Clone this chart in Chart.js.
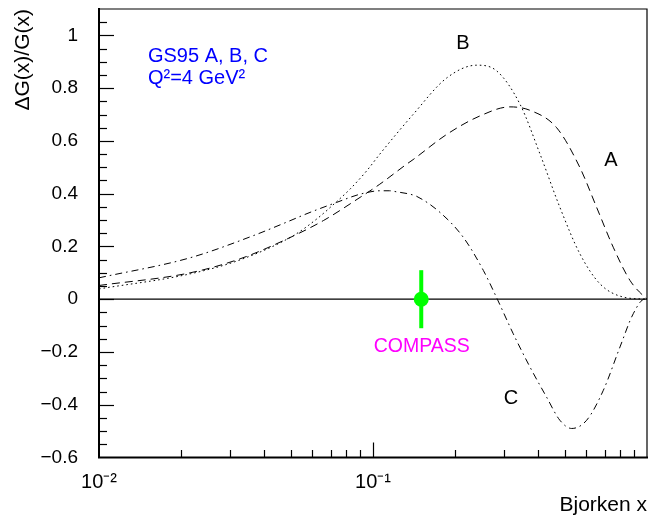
<!DOCTYPE html>
<html><head><meta charset="utf-8">
<script src="https://cdn.jsdelivr.net/npm/chart.js@4.4.1/dist/chart.umd.min.js"></script>
<style>html,body{margin:0;padding:0;background:#fff}#wrap{width:656px;height:519px}</style>
</head><body><div id="wrap"><canvas id="c" width="656" height="519"></canvas></div>
<script>
// ---- data (Bjorken x, ΔG/G) ----
const xA = [0.01, 0.0215, 0.0327, 0.0471, 0.0659, 0.0897, 0.1059, 0.1327, 0.140, 0.186, 0.246, 0.316, 0.374, 0.468, 0.569, 0.655, 0.753, 0.867, 0.98, 1.0];
const yA = [0.052, 0.100, 0.153, 0.222, 0.298, 0.386, 0.436, 0.512, 0.529, 0.625, 0.695, 0.729, 0.716, 0.650, 0.499, 0.348, 0.197, 0.071, 0.008, 0.0];

const xB = [0.01, 0.0215, 0.0327, 0.0512, 0.0623, 0.0737, 0.0824, 0.0949, 0.1059, 0.140, 0.186, 0.239, 0.283, 0.344, 0.407, 0.481, 0.569, 0.674, 0.820, 1.0];
const yB = [0.039, 0.096, 0.149, 0.241, 0.304, 0.370, 0.417, 0.487, 0.550, 0.700, 0.839, 0.887, 0.865, 0.739, 0.550, 0.348, 0.172, 0.058, 0.008, 0.0];

const xC = [0.01, 0.0215, 0.0366, 0.0471, 0.0589, 0.0737, 0.0897, 0.1059, 0.115, 0.122, 0.1365, 0.1443, 0.1756, 0.2138, 0.2528, 0.2843, 0.325, 0.374, 0.430, 0.481, 0.531, 0.602, 0.693, 0.797, 0.891, 0.98, 1.0];
const yC = [0.081, 0.157, 0.241, 0.287, 0.329, 0.367, 0.398, 0.411, 0.411, 0.407, 0.398, 0.390, 0.329, 0.234, 0.109, 0.0, -0.131, -0.257, -0.371, -0.459, -0.490, -0.459, -0.345, -0.181, -0.055, 0.0, 0.0];

const compassX = [0.15];
const compassY = [0.0];
const compassErr = [0.11];

const zeroX = [0.01, 1.0];
const zeroY = [0, 0];

// ---- axis ticks ----
const xTickValues = [0.01,0.02,0.03,0.04,0.05,0.06,0.07,0.08,0.09,0.1,0.2,0.3,0.4,0.5,0.6,0.7,0.8,0.9,1.0];
const xTickText = {'0.01':'10\u207B\u00B2', '0.1':'10\u207B\u00B9'};
const yMin = -0.6, yMax = 1.1, yStep = 0.05, yLabelStep = 0.2;

const FONT = 'Liberation Sans, Arial, Helvetica, sans-serif';

const pts = (xs, ys) => xs.map((x, i) => ({x: x, y: ys[i]}));
const isPow10 = v => Math.abs(Math.log10(v) - Math.round(Math.log10(v))) < 1e-6;
const isYMajor = v => Math.abs(v / yLabelStep - Math.round(v / yLabelStep)) < 1e-6;

const frameTicks = {
  id: 'frameTicks',
  afterDraw(chart) {
    const {ctx, chartArea: a, scales: {x, y}} = chart;
    ctx.save();
    ctx.strokeStyle = '#000';
    ctx.lineCap = 'butt';
    ctx.lineWidth = 1.2;
    ctx.beginPath();
    ctx.moveTo(a.left, a.top); ctx.lineTo(a.right, a.top); ctx.lineTo(a.right, a.bottom);
    ctx.stroke();
    ctx.lineWidth = 2;
    ctx.beginPath();
    ctx.moveTo(a.left, a.top - 1); ctx.lineTo(a.left, a.bottom); ctx.lineTo(a.right + 1, a.bottom);
    ctx.stroke();
    ctx.lineWidth = 1.2;
    x.ticks.forEach(t => {
      const px = Math.round(x.getPixelForValue(t.value)) + 0.5;
      if (px <= a.left + 1 || px >= a.right - 1) return;
      const len = isPow10(t.value) ? 15 : 7.5;
      ctx.beginPath(); ctx.moveTo(px, a.bottom); ctx.lineTo(px, a.bottom - len); ctx.stroke();
    });
    y.ticks.forEach(t => {
      const py = Math.round(y.getPixelForValue(t.value)) + 0.5;
      if (py <= a.top + 1 || py >= a.bottom - 1) return;
      const len = isYMajor(t.value) ? 15 : 8;
      ctx.beginPath(); ctx.moveTo(a.left, py); ctx.lineTo(a.left + len, py); ctx.stroke();
    });
    ctx.restore();
  }
};

const errorBars = {
  id: 'errorBars',
  beforeDatasetsDraw(chart) {
    const {ctx, scales: {x, y}} = chart;
    ctx.save();
    ctx.strokeStyle = '#00ff00';
    ctx.lineWidth = 4;
    compassX.forEach((cx, i) => {
      const px = x.getPixelForValue(cx);
      ctx.beginPath();
      ctx.moveTo(px, y.getPixelForValue(compassY[i] + compassErr[i]));
      ctx.lineTo(px, y.getPixelForValue(compassY[i] - compassErr[i]));
      ctx.stroke();
    });
    ctx.restore();
  }
};

const annotations = {
  id: 'annotations',
  afterDraw(chart) {
    const {ctx, scales: {x, y}} = chart;
    const items = [
      {t: 'GS95 A, B, C', x: 0.01509, y: 0.921, c: '#0000ff', a: 'left', s: 20},
      {t: 'Q\u00B2=4 GeV\u00B2', x: 0.01509, y: 0.838, c: '#0000ff', a: 'left', s: 20},
      {t: 'B', x: 0.2131, y: 0.970, c: '#000', a: 'center', s: 20},
      {t: 'A', x: 0.739, y: 0.524, c: '#000', a: 'center', s: 20},
      {t: 'C', x: 0.319, y: -0.375, c: '#000', a: 'center', s: 20},
      {t: 'COMPASS', x: 0.1506, y: -0.180, c: '#ff00ff', a: 'center', s: 19.5}
    ];
    ctx.save();
    ctx.textBaseline = 'middle';
    items.forEach(it => {
      ctx.font = it.s + 'px ' + FONT;
      ctx.fillStyle = it.c;
      ctx.textAlign = it.a;
      ctx.fillText(it.t, x.getPixelForValue(it.x), y.getPixelForValue(it.y));
    });
    ctx.restore();
  }
};

new Chart(document.getElementById('c'), {
  type: 'line',
  data: {
    datasets: [
      {label: 'COMPASS', data: pts(compassX, compassY), showLine: false, pointRadius: 7.5, pointHoverRadius: 7.5,
       pointBackgroundColor: '#00ff00', pointBorderWidth: 0, borderColor: '#00ff00', order: 0},
      {label: 'zero', data: pts(zeroX, zeroY), borderColor: '#000', borderWidth: 1.2, pointRadius: 0, order: 1},
      {label: 'A', data: pts(xA, yA), borderColor: '#000', borderWidth: 1, borderDash: [8, 5], pointRadius: 0, cubicInterpolationMode: 'monotone', order: 2},
      {label: 'B', data: pts(xB, yB), borderColor: '#000', borderWidth: 1, borderDash: [1.6, 3], pointRadius: 0, cubicInterpolationMode: 'monotone', order: 2},
      {label: 'C', data: pts(xC, yC), borderColor: '#000', borderWidth: 1, borderDash: [7, 4, 1.6, 4], pointRadius: 0, cubicInterpolationMode: 'monotone', order: 2}
    ]
  },
  options: {
    responsive: false,
    animation: false,
    devicePixelRatio: 1,
    layout: {padding: {top: 9, right: 9, left: 0, bottom: 0}},
    plugins: {legend: {display: false}, tooltip: {enabled: false}},
    scales: {
      x: {
        type: 'logarithmic', position: 'bottom', min: 0.01, max: 1,
        grid: {display: false, drawTicks: false}, border: {display: false},
        afterBuildTicks: s => { s.ticks = xTickValues.map(v => ({value: v})); },
        afterFit: s => { s.height = 61.5; s.paddingLeft = 0; s.paddingRight = 0; s.paddingTop = 0; s.paddingBottom = 0; },
        ticks: {
          autoSkip: false, maxRotation: 0, minRotation: 0, padding: 13, color: '#000',
          font: {family: FONT, size: 20},
          callback: v => { for (const k in xTickText) { if (Math.abs(v - parseFloat(k)) < 1e-9) return xTickText[k]; } return ''; }
        },
        title: {display: true, text: 'Bjorken x', align: 'end', color: '#000', font: {family: FONT, size: 21}, padding: {top: 0, bottom: 1}}
      },
      y: {
        type: 'linear', position: 'left', min: yMin, max: yMax,
        grid: {display: false, drawTicks: false}, border: {display: false},
        afterFit: s => { s.width = 99; s.paddingTop = 0; s.paddingBottom = 0; s.paddingLeft = 0; s.paddingRight = 0; },
        ticks: {
          stepSize: yStep, autoSkip: false, padding: 21, color: '#000',
          font: {family: FONT, size: 19},
          callback: v => {
            if (!isYMajor(v)) return '';
            const r = Math.round(v * 10) / 10;
            if (r === 0) return '0';
            return (r < 0 ? '\u2212' : '') + String(Math.abs(r));
          }
        },
        title: {display: true, text: '\u0394G(x)/G(x)', align: 'end', color: '#000', font: {family: FONT, size: 21}, padding: {top: 11, bottom: 0}}
      }
    }
  },
  plugins: [errorBars, frameTicks, annotations]
});
</script>
</body></html>
